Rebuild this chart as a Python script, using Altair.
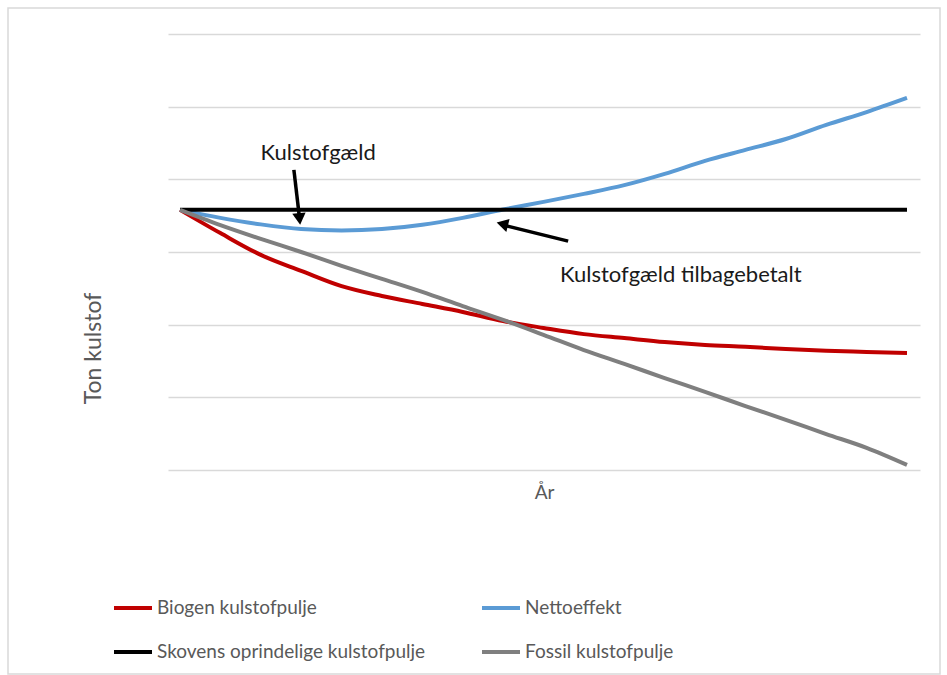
import altair as alt
import pandas as pd

# Years after harvest (index) and the four carbon pools (tonnes C, arbitrary units)
years = list(range(19))
biogen = [71.6, 65.2, 59.2, 54.8, 50.6, 47.9, 45.7, 43.5, 41.0, 39.1,
          37.4, 36.3, 35.2, 34.4, 33.9, 33.3, 32.8, 32.5, 32.2]
netto = [71.6, 69.4, 67.6, 66.3, 65.9, 66.3, 67.5, 69.4, 71.7, 73.8,
         76.0, 78.4, 81.5, 85.1, 88.1, 91.1, 95.0, 98.5, 102.4]
skov = [71.6] * 19
fossil = [71.6, 67.4, 63.6, 60.0, 56.2, 52.6, 49.0, 45.1, 41.3, 37.2,
          33.0, 29.2, 25.3, 21.5, 17.6, 13.8, 9.9, 6.1, 1.4]

series_names = ["Biogen kulstofpulje", "Nettoeffekt",
                "Skovens oprindelige kulstofpulje", "Fossil kulstofpulje"]
series_colors = ["#C00000", "#5B9BD5", "#000000", "#7F7F7F"]
grid_values = [0, 20, 40, 60, 80, 100, 120]

# Annotation texts and arrows (data coordinates)
note_text = ["Kulstofgæld", "Kulstofgæld tilbagebetalt"]
note_x = [3.42, 12.40]
note_y = [85.3, 51.7]
arrow_x = [2.82, 9.61]
arrow_y = [82.6, 63.0]
arrow_x2 = [2.95, 8.05]
arrow_y2 = [70.2, 67.3]
head_x = [2.96, 7.98]
head_y = [69.1, 67.7]
head_angle = [174, 284]

rows = []
for name, vals in zip(series_names, [biogen, netto, skov, fossil]):
    for yr, v in zip(years, vals):
        rows.append({"aar": yr, "ton": v, "serie": name})
df = pd.DataFrame(rows)

notes = pd.DataFrame({"text": note_text, "x": note_x, "y": note_y})
arrows = pd.DataFrame({"x": arrow_x, "y": arrow_y, "x2": arrow_x2, "y2": arrow_y2,
                       "hx": head_x, "hy": head_y, "angle": head_angle})

FONT = "Lato"
xscale = alt.Scale(domain=[-0.297, 18.322], nice=False, zero=False)
yscale = alt.Scale(domain=[0, 120], nice=False)

lines = alt.Chart(df).mark_line(strokeWidth=4, interpolate="monotone").encode(
    x=alt.X("aar:Q", scale=xscale,
            axis=alt.Axis(title="År", labels=False, ticks=False, domain=False, grid=False,
                          titleFont=FONT, titleFontSize=19, titleFontWeight="normal",
                          titleColor="#595959", titleY=28, titleBaseline="alphabetic")),
    y=alt.Y("ton:Q", scale=yscale,
            axis=alt.Axis(title="Ton kulstof", values=grid_values, labels=False, ticks=False,
                          domain=False, grid=True, gridColor="#d9d9d9", gridWidth=1.5,
                          titleFont=FONT, titleFontSize=23, titleFontWeight="normal",
                          titleColor="#595959", titleAngle=270, titleAlign="center",
                          titleBaseline="middle", titleX=-75, titleY=314)),
    color=alt.Color("serie:N", sort=series_names,
                    scale=alt.Scale(domain=series_names, range=series_colors),
                    legend=alt.Legend(title=None, orient="none", legendX=-56, legendY=553,
                                      direction="horizontal", columns=2,
                                      symbolType="stroke", symbolSize=1444,
                                      symbolStrokeWidth=4, labelFont=FONT, labelFontSize=19,
                                      labelColor="#595959", labelOffset=3, labelLimit=400,
                                      columnPadding=48, rowPadding=13, padding=0)),
    order=alt.Order("serie_order:Q"),
).transform_calculate(
    serie_order="indexof(" + str(series_names) + ", datum.serie)"
)

shafts = alt.Chart(arrows).mark_rule(strokeWidth=3.5, color="black").encode(
    x="x:Q", y="y:Q", x2="x2:Q", y2="y2:Q")

heads = alt.Chart(arrows).mark_point(shape="triangle-up", filled=True, size=180,
                                     color="black", opacity=1).encode(
    x="hx:Q", y="hy:Q", angle=alt.Angle("angle:Q", scale=None))

texts = alt.Chart(notes).mark_text(font=FONT, fontSize=22, color="#1a1a1a",
                                   align="center", baseline="alphabetic").encode(
    x="x:Q", y="y:Q", text="text:N")

frame = alt.Chart(pd.DataFrame({"k": [0]})).mark_rect(
    fill="transparent", stroke="#d9d9d9", strokeWidth=1.5).encode(
    x=alt.value(-160), x2=alt.value(772), y=alt.value(-26), y2=alt.value(640))

chart = alt.layer(frame, lines, shafts, heads, texts).properties(
    width=752, height=436,
    autosize=alt.AutoSizeParams(type="none"),
    padding={"left": 168, "top": 34, "right": 27, "bottom": 205},
    background="white",
).configure_view(stroke=None)

chart.save("out.html", embed_options={"renderer": "svg", "actions": False})
